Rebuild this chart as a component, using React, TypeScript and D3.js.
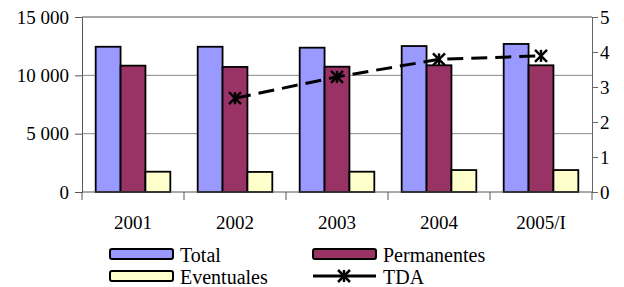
import React, { useRef, useEffect } from 'react';
import * as d3 from 'd3';

const years = ['2001', '2002', '2003', '2004', '2005/I'];
const total = [12450, 12450, 12370, 12510, 12690];
const permanentes = [10830, 10720, 10740, 10860, 10860];
const eventuales = [1740, 1720, 1740, 1880, 1880];
const tdaYears = ['2002', '2003', '2004', '2005/I'];
const tda = [2.68, 3.29, 3.79, 3.89];
const leftTicks = [0, 5000, 10000, 15000];
const rightTicks = [0, 1, 2, 3, 4, 5];

const seriesNames = ['Total', 'Permanentes', 'Eventuales'];
const seriesColors = ['#9999ff', '#993366', '#ffffcc'];

const W = 624;
const H = 287;
const FONT = 'Liberation Serif';

const App: React.FC = () => {
    const ref = useRef<SVGSVGElement>(null);

    useEffect(() => {
        if (!ref.current) return;
        const svg = d3.select(ref.current);
        svg.selectAll('*').remove();

        const left = 82, right = 592, top = 17, bottom = 192;

        const x = d3.scaleBand().domain(years).range([left, right]);
        const inner = d3.scaleBand().domain(seriesNames).range([0, x.bandwidth()]).paddingOuter(0.55).paddingInner(0);
        const y = d3.scaleLinear().domain([0, 15000]).range([bottom, top]);
        const y2 = d3.scaleLinear().domain([0, 5]).range([bottom, top]);

        // grid
        svg.append('g').selectAll('line')
            .data(leftTicks.filter(d => d > 0))
            .enter().append('line')
            .attr('x1', left).attr('x2', right)
            .attr('y1', d => y(d)).attr('y2', d => y(d))
            .attr('stroke', '#8a8a8a').attr('stroke-width', 1);

        const data = [total, permanentes, eventuales];
        seriesNames.forEach((name, si) => {
            svg.append('g').selectAll('rect')
                .data(years)
                .enter().append('rect')
                .attr('x', d => x(d)! + inner(name)!)
                .attr('y', (d, i) => y(data[si][i]))
                .attr('width', inner.bandwidth())
                .attr('height', (d, i) => bottom - y(data[si][i]))
                .attr('fill', seriesColors[si])
                .attr('stroke', '#000')
                .attr('stroke-width', 1.8);
        });

        // left axis
        const ly = svg.append('g')
            .attr('transform', `translate(${left},0)`)
            .attr('font-family', FONT).attr('font-size', 19)
            .call(d3.axisLeft(y).tickValues(leftTicks).tickSize(7).tickPadding(6)
                .tickFormat(d => d3.format(',')(d as number).replace(/,/g, ' ')));
        ly.attr('font-family', FONT).attr('font-size', 19);
        ly.selectAll('line').attr('stroke', '#555');
        ly.select('.domain').attr('stroke', '#555');
        ly.selectAll('text').attr('font-family', FONT).attr('fill', '#000');

        // right axis
        const ry = svg.append('g')
            .attr('transform', `translate(${right},0)`)
            .call(d3.axisRight(y2).tickValues(rightTicks).tickSize(6).tickPadding(2)
                .tickFormat(d3.format('d')));
        ry.attr('font-family', FONT).attr('font-size', 19);
        ry.selectAll('line').attr('stroke', '#666');
        ry.select('.domain').attr('stroke', '#666');
        ry.selectAll('text').attr('font-family', FONT).attr('fill', '#000');

        // bottom axis
        const bx = svg.append('g').attr('transform', `translate(0,${bottom})`);
        bx.append('line').attr('x1', left).attr('x2', right).attr('stroke', '#555');
        bx.selectAll('line.tk')
            .data(years.concat(['end']))
            .enter().append('line')
            .attr('class', 'tk')
            .attr('x1', (d, i) => i < years.length ? x(d)! : right)
            .attr('x2', (d, i) => i < years.length ? x(d)! : right)
            .attr('y1', 0).attr('y2', 8)
            .attr('stroke', '#555');
        bx.selectAll('text')
            .data(years)
            .enter().append('text')
            .attr('x', d => x(d)! + x.bandwidth() / 2)
            .attr('y', 37)
            .attr('text-anchor', 'middle')
            .attr('font-family', FONT).attr('font-size', 19)
            .text(d => d);

        // top frame line
        svg.append('line').attr('x1', left).attr('x2', right).attr('y1', top).attr('y2', top)
            .attr('stroke', '#8a8a8a');

        // TDA line
        const line = d3.line<number>()
            .x((d, i) => x(tdaYears[i])! + x.bandwidth() / 2)
            .y(d => y2(d));
        svg.append('path')
            .datum(tda)
            .attr('d', line)
            .attr('fill', 'none')
            .attr('stroke', '#000')
            .attr('stroke-width', 3)
            .attr('stroke-dasharray', '16,8');

        const star = (g: any, cx: number, cy: number) => {
            const s = 6;
            const mk = g.append('g').attr('stroke', '#000').attr('stroke-width', 2.5);
            mk.append('line').attr('x1', cx - s).attr('x2', cx + s).attr('y1', cy - s).attr('y2', cy + s);
            mk.append('line').attr('x1', cx - s).attr('x2', cx + s).attr('y1', cy + s).attr('y2', cy - s);
            mk.append('line').attr('x1', cx).attr('x2', cx).attr('y1', cy - s).attr('y2', cy + s);
        };
        const mg = svg.append('g');
        tda.forEach((v, i) => star(mg, x(tdaYears[i])! + x.bandwidth() / 2, y2(v)));

        // legend
        const lg = svg.append('g').attr('font-family', FONT).attr('font-size', 20);
        const items = [
            { name: 'Total', color: seriesColors[0], x: 110, y: 249 },
            { name: 'Permanentes', color: seriesColors[1], x: 313, y: 249 },
            { name: 'Eventuales', color: seriesColors[2], x: 110, y: 271 },
        ];
        items.forEach(it => {
            lg.append('rect').attr('x', it.x).attr('y', it.y).attr('width', 63).attr('height', 10)
                .attr('rx', 2).attr('fill', it.color).attr('stroke', '#000').attr('stroke-width', 2);
            lg.append('text').attr('x', it.x + 70).attr('y', it.y + 13)
                .attr('font-family', FONT).text(it.name);
        });
        lg.append('line').attr('x1', 313).attr('x2', 376).attr('y1', 276).attr('y2', 276)
            .attr('stroke', '#000').attr('stroke-width', 3);
        star(lg, 344, 276);
        lg.append('text').attr('x', 383).attr('y', 284)
            .attr('font-family', FONT).text('TDA');
    }, []);

    return (
        <svg ref={ref} width={W} height={H}
            style={{ position: 'absolute', left: 0, top: 0, background: '#fff' }} />
    );
};

export default App;
